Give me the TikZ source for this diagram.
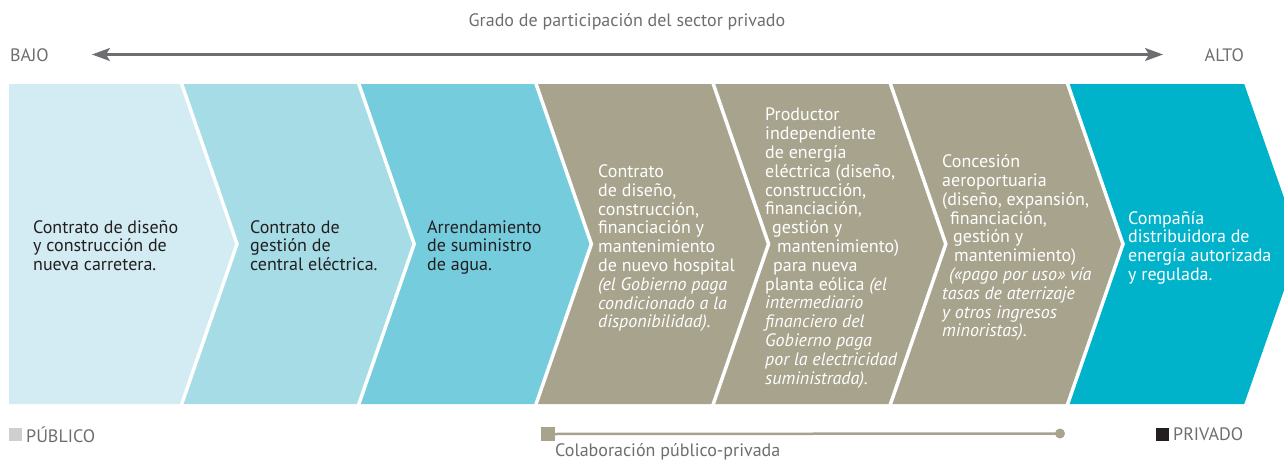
\documentclass[tikz,border=0pt]{standalone}
\usepackage{fontspec}
\setmainfont{PT Sans}
\usetikzlibrary{arrows.meta}
\definecolor{cA}{HTML}{D3EBF2}
\definecolor{cB}{HTML}{A6DCE6}
\definecolor{cC}{HTML}{74CCDD}
\definecolor{cG}{HTML}{A7A38C}
\definecolor{cD}{HTML}{00B3CB}
\definecolor{txtdark}{HTML}{231F20}
\definecolor{txtgrey}{HTML}{6D6E71}
\definecolor{legpub}{HTML}{CFCFD0}
\tikzset{
  chevtext/.style={anchor=north west, inner sep=0pt, align=left,
    font=\fontsize{18}{18.8}\selectfont},
  darktext/.style={chevtext, text=txtdark},
  lighttext/.style={chevtext, text=white},
  sep/.style={draw=white, line width=3.5pt, line join=miter},
  greylabel/.style={inner sep=0pt, text=txtgrey, font=\fontsize{18}{20}\selectfont},
  scalearrow/.style={draw=txtgrey, line width=2.2pt, >={Stealth[length=18pt,width=13pt,inset=4pt]}, <->},
}
\begin{document}
\begin{tikzpicture}[x=1pt,y=-1pt]
\useasboundingbox (0,0) rectangle (1284,461);
\begin{scope}
\clip (0,0) rectangle (1284,461);
% chevrons
\fill[cA] (9,84) -- (181,84) -- (237,244) -- (181,404) -- (9,404) -- cycle;
\fill[cB] (181,84) -- (358.2,84) -- (414.2,244) -- (358.2,404) -- (181,404) -- (237,244) -- cycle;
\fill[cC] (358.2,84) -- (535.4,84) -- (591.4,244) -- (535.4,404) -- (358.2,404) -- (414.2,244) -- cycle;
\fill[cG] (535.4,84) -- (712.6,84) -- (768.6,244) -- (712.6,404) -- (535.4,404) -- (591.4,244) -- cycle;
\fill[cG] (712.6,84) -- (889.8,84) -- (945.8,244) -- (889.8,404) -- (712.6,404) -- (768.6,244) -- cycle;
\fill[cG] (889.8,84) -- (1067,84) -- (1123,244) -- (1067,404) -- (889.8,404) -- (945.8,244) -- cycle;
\fill[cD] (1067,84) -- (1244.2,84) -- (1300.2,244) -- (1244.2,404) -- (1067,404) -- (1123,244) -- cycle;
\draw[sep] (181,82) -- (237,244) -- (181,406);
\draw[sep] (358.2,82) -- (414.2,244) -- (358.2,406);
\draw[sep] (535.4,82) -- (591.4,244) -- (535.4,406);
\draw[sep] (712.6,82) -- (768.6,244) -- (712.6,406);
\draw[sep] (889.8,82) -- (945.8,244) -- (889.8,406);
\draw[sep] (1067,82) -- (1123,244) -- (1067,406);
\end{scope}

% chevron texts
\node[darktext] (t1) at (33,220) {Contrato de diseño\\y construcción de\\nueva carretera.};
\node[darktext] (t2) at (250,220) {Contrato de\\gestión de\\central eléctrica.};
\node[darktext] (t3) at (427,220) {Arrendamiento\\de suministro\\de agua.};
\node[lighttext] (t4) at (598,164.5) {Contrato\\de diseño,\\construcción,\\financiación y\\mantenimiento\\de nuevo hospital\\\textit{(el Gobierno paga}\\\textit{condicionado a la}\\\textit{disponibilidad).}};
\node[lighttext] (t5) at (765,108) {Productor\\independiente\\de energía\\eléctrica (diseño,\\construcción,\\financiación,\\\hspace*{7pt}gestión y\\\hspace*{12pt}mantenimiento)\\\hspace*{8pt}para nueva\\planta eólica \textit{(el}\\\textit{intermediario}\\\textit{financiero del}\\\textit{Gobierno paga}\\\textit{por la electricidad}\\\textit{suministrada).}};
\node[lighttext] (t6) at (942,154.5) {Concesión\\aeroportuaria\\(diseño, expansión,\\\hspace*{8pt}financiación,\\\hspace*{11pt}gestión y\\\hspace*{12pt}mantenimiento)\\\hspace*{7pt}\textit{(«pago por uso» vía}\\\textit{tasas de aterrizaje}\\\textit{y otros ingresos}\\\textit{minoristas).}};
\node[lighttext] (t7) at (1128,211) {Compañía\\distribuidora de\\energía autorizada\\y regulada.};

% top scale
\node[greylabel, anchor=center] (title) at (627,22) {Grado de participación del sector privado};
\node[greylabel, anchor=west] (bajo) at (10,55.5) {BAJO};
\node[greylabel, anchor=east] (alto) at (1244,55.5) {ALTO};
\coordinate (aL) at (92,54.5);
\coordinate (aR) at (1163,54.5);
\draw[scalearrow] (aL) -- (aR);

% legend
\node[fill=legpub, minimum size=13pt, inner sep=0pt] (sqpub) at (15.5,434) {};
\node[greylabel, anchor=west] (pub) at (26,434.5) {PÚBLICO};
\node[fill=txtdark, minimum size=13pt, inner sep=0pt] (sqpriv) at (1162,434) {};
\node[greylabel, anchor=west] (priv) at (1173,434.5) {PRIVADO};
\node[fill=cG, minimum size=14pt, inner sep=0pt] (sqppp) at (548,434) {};
\node[fill=cG, circle, minimum size=10pt, inner sep=0pt] (dotppp) at (1060,433.5) {};
\draw[cG, line width=2.5pt] (sqppp.center) -- (dotppp.center);
\node[greylabel, anchor=west] (ppp) at (555,451.5) {Colaboración público-privada};
\end{tikzpicture}
\end{document}
